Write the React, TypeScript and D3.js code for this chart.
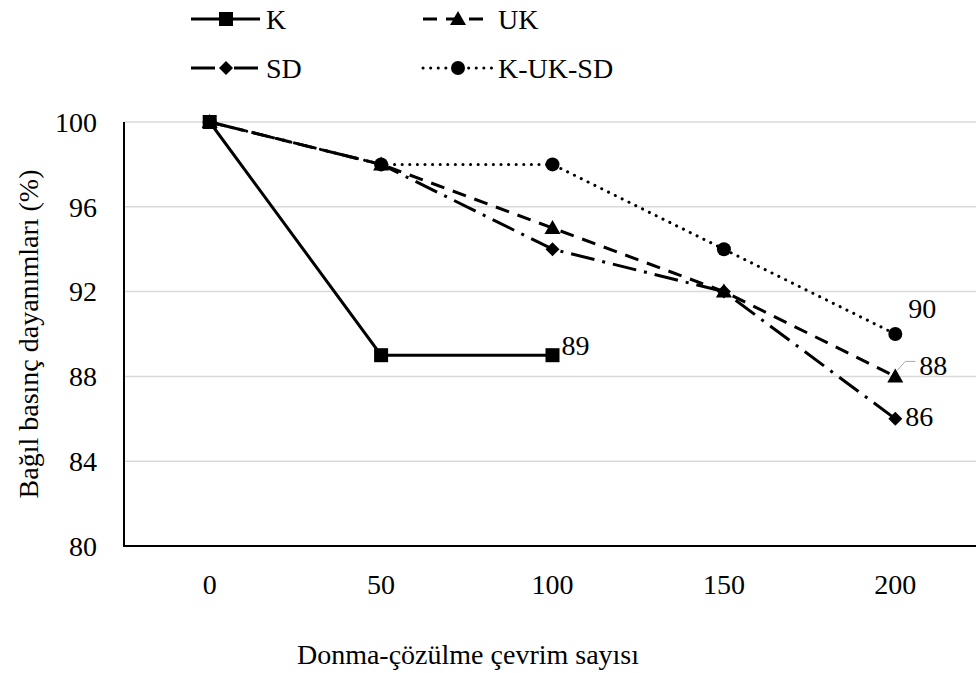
import React from "react";
import * as d3 from "d3";

const categories = ["0", "50", "100", "150", "200"];
const seriesNames = ["K", "UK", "SD", "K-UK-SD"];
const kValues = [100, 89, 89];
const ukValues = [100, 98, 95, 92, 88];
const sdValues = [100, 98, 94, 92, 86];
const kuksdValues = [100, 98, 98, 94, 90];
const yTicks = [80, 84, 88, 92, 96, 100];

const W = 976;
const H = 673;
const FONT = "Liberation Serif, DejaVu Serif, serif";
const FS = 28;

type Marker = "square" | "triangle" | "diamond" | "circle";

function MarkerShape({ type, x, y }: { type: Marker; x: number; y: number }) {
  if (type === "square") return <rect x={x - 7} y={y - 7} width={14} height={14} fill="#000" />;
  if (type === "triangle")
    return <path d={`M${x},${y - 8} L${x + 8},${y + 6} L${x - 8},${y + 6} Z`} fill="#000" />;
  if (type === "diamond")
    return <path d={`M${x},${y - 7} L${x + 7},${y} L${x},${y + 7} L${x - 7},${y} Z`} fill="#000" />;
  return <circle cx={x} cy={y} r={7} fill="#000" />;
}

const T = (props: any) => (
  <text {...props} fontFamily={FONT} fontSize={FS} fill="#000">
    {props.children}
  </text>
);

export default function App() {
  const band = d3.scaleBand<string>().domain(categories).range([124, 981]);
  const xs = (i: number) => (band(categories[i]) as number) + band.bandwidth() / 2;
  const y = d3.scaleLinear().domain([80, 100]).range([546, 122]);
  const line = d3
    .line<number>()
    .x((_, i) => xs(i))
    .y((d) => y(d));

  const series: { name: string; values: number[]; dash: string; cap: string; marker: Marker }[] = [
    { name: seriesNames[0], values: kValues, dash: "none", cap: "butt", marker: "square" },
    { name: seriesNames[1], values: ukValues, dash: "14 9", cap: "butt", marker: "triangle" },
    { name: seriesNames[2], values: sdValues, dash: "24 8 3 8", cap: "butt", marker: "diamond" },
    { name: seriesNames[3], values: kuksdValues, dash: "0.1 7.5", cap: "round", marker: "circle" },
  ];

  const legendPos = [
    { x: 191, y: 19 },
    { x: 423, y: 19 },
    { x: 191, y: 68 },
    { x: 423, y: 68 },
  ];

  return (
    <svg width={W} height={H} style={{ display: "block", position: "absolute", left: 0, top: 0 }}>
      <rect width={W} height={H} fill="#fff" />
      {yTicks.map((t) => (
        <line key={t} x1={124} x2={981} y1={y(t)} y2={y(t)} stroke="#d9d9d9" strokeWidth={1.5} />
      ))}
      <line x1={124} x2={124} y1={y(100)} y2={y(80)} stroke="#000" strokeWidth={2} />
      <line x1={123} x2={981} y1={y(80)} y2={y(80)} stroke="#000" strokeWidth={2} />
      {yTicks.map((t) => (
        <T key={t} x={97} y={y(t)} dy="0.35em" textAnchor="end">
          {t}
        </T>
      ))}
      {categories.map((c, i) => (
        <T key={c} x={xs(i)} y={584} dy="0.35em" textAnchor="middle">
          {c}
        </T>
      ))}
      <T x={468} y={664} textAnchor="middle">
        Donma-çözülme çevrim sayısı
      </T>
      <T transform={`translate(38,${(y(100) + y(80)) / 2}) rotate(-90)`} textAnchor="middle">
        Bağıl basınç dayanımları (%)
      </T>
      {series.map((s) => (
        <g key={s.name}>
          <path
            d={line(s.values) || ""}
            fill="none"
            stroke="#000"
            strokeWidth={3}
            strokeDasharray={s.dash}
            strokeLinecap={s.cap as any}
          />
          {s.values.map((v, i) => (
            <MarkerShape key={i} type={s.marker} x={xs(i)} y={y(v)} />
          ))}
        </g>
      ))}
      <T x={xs(2) + 9} y={y(kValues[2]) - 10} dy="0.35em">
        {kValues[2]}
      </T>
      <T x={xs(4) + 13} y={y(kuksdValues[4]) - 26} dy="0.35em">
        {kuksdValues[4]}
      </T>
      <path
        d={`M${xs(4) + 2},${y(ukValues[4]) - 6} L${xs(4) + 10},${y(ukValues[4]) - 15} L${xs(4) + 20},${y(ukValues[4]) - 15}`}
        fill="none"
        stroke="#a6a6a6"
        strokeWidth={1}
      />
      <T x={xs(4) + 24} y={y(ukValues[4]) - 11} dy="0.35em">
        {ukValues[4]}
      </T>
      <T x={xs(4) + 10} y={y(sdValues[4]) - 3} dy="0.35em">
        {sdValues[4]}
      </T>
      {series.map((s, i) => {
        const p = legendPos[i];
        return (
          <g key={s.name}>
            <line
              x1={p.x}
              x2={p.x + 69}
              y1={p.y}
              y2={p.y}
              stroke="#000"
              strokeWidth={3}
              strokeDasharray={s.dash}
              strokeLinecap={s.cap as any}
            />
            <MarkerShape type={s.marker} x={p.x + 35} y={p.y} />
            <T x={p.x + 75} y={p.y} dy="0.35em">
              {s.name}
            </T>
          </g>
        );
      })}
    </svg>
  );
}
